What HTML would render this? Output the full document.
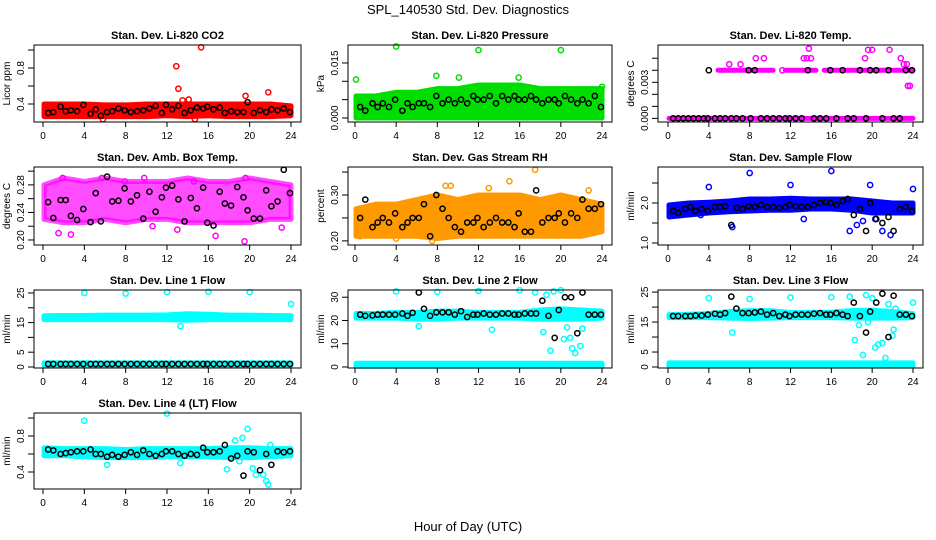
<!DOCTYPE html>
<html><head><meta charset="utf-8"><style>
body{margin:0;background:#fff}
svg{display:block;font-family:"Liberation Sans",sans-serif}
</style></head><body>
<svg id="c" width="936" height="540" viewBox="0 0 936 540">
<text x="468" y="14" text-anchor="middle" font-size="13">SPL_140530  Std. Dev. Diagnostics</text>
<text x="468" y="531" text-anchor="middle" font-size="13">Hour of Day (UTC)</text>
</svg>
<script>
// ---- data ----
const hours = [0,2,4,6,8,10,12,14,16,18,20,22,24];
const xTicks = [0,4,8,12,16,20,24];
const blackHours = [0.5,1,1.7,2.2,2.7,3.3,3.9,4.6,5.1,5.6,6.2,6.7,7.3,7.9,8.5,9.1,9.7,10.3,10.9,11.5,11.9,12.5,13.1,13.7,14.3,14.9,15.5,15.9,16.5,17.1,17.6,18.2,18.8,19.4,19.8,20.4,21,21.6,22.1,22.7,23.3,23.9];

const p1Lo=[0.26,0.26,0.26,0.26,0.26,0.26,0.27,0.26,0.27,0.26,0.26,0.26,0.27];
const p1Hi=[0.40,0.40,0.40,0.39,0.39,0.40,0.40,0.40,0.40,0.40,0.40,0.40,0.38];
const p1OutX=[12.9,13.1,15.3,21.8,19.6,14.1,5.8,14.7,13.5];
const p1OutY=[0.82,0.57,1.03,0.53,0.49,0.45,0.23,0.23,0.44];
const p1Black=[0.30,0.31,0.37,0.32,0.33,0.32,0.39,0.29,0.34,0.27,0.31,0.32,0.35,0.33,0.31,0.32,0.33,0.35,0.38,0.30,0.39,0.34,0.38,0.30,0.33,0.36,0.35,0.37,0.34,0.36,0.30,0.32,0.31,0.31,0.42,0.30,0.33,0.31,0.34,0.33,0.35,0.31];

const p2Lo=[0.0,0.0,0.0,0.0,0.0,0.0,0.0,0.0,0.0,0.0,0.0,0.0,0.0];
const p2Hi=[0.006,0.006,0.007,0.007,0.008,0.008,0.009,0.009,0.009,0.008,0.008,0.008,0.008];
const p2OutX=[0.1,4,7.9,12,20,24,10.1,15.9];
const p2OutY=[0.0105,0.0195,0.0115,0.0185,0.0185,0.0085,0.011,0.011];
const p2Black=[0.003,0.002,0.004,0.003,0.004,0.003,0.005,0.002,0.004,0.003,0.004,0.004,0.003,0.006,0.004,0.005,0.004,0.005,0.004,0.006,0.005,0.005,0.006,0.004,0.006,0.005,0.006,0.005,0.005,0.006,0.005,0.004,0.005,0.005,0.004,0.006,0.005,0.004,0.005,0.004,0.006,0.003];

const p3Lo=[0,0,0,0,0,0,0,0,0,0,0,0,0];
const p3Hi=[0,0,0,0,0,0,0,0,0,0,0,0,0];
const p3SegStart=[4.9,11.5,15.3];
const p3SegEnd=[10.3,14.5,24];
const p3SegVal=[0.004,0.004,0.004];
const p3OutX=[6,7.1,8.6,9.4,11.2,13.3,13.6,13.8,14,19.3,19.6,20,21.7,22.8,23.1,23.4,23.5,23.7];
const p3OutY=[0.0045,0.0045,0.005,0.005,0.004,0.005,0.005,0.0058,0.005,0.005,0.0057,0.0057,0.0057,0.005,0.0045,0.0045,0.0027,0.0027];
const p3BlackX=[0.5,1,1.5,2,2.5,3,3.5,3.9,4,4.6,5.1,5.6,6.2,6.7,7.3,7.9,8.1,8.5,9.1,9.7,10.3,10.9,11.5,11.9,12.5,13.1,13.7,14.3,14.9,15.5,15.9,16.5,17.1,17.6,18.2,18.8,19.4,19.8,20.4,21,21.6,22.1,22.7,23.3,23.9];
const p3BlackY=[0,0,0,0,0,0,0,0,0.004,0,0,0,0,0,0,0.004,0,0.004,0,0,0,0,0,0,0,0,0.004,0,0,0,0.004,0,0.004,0,0,0.004,0,0.004,0.004,0,0.004,0,0,0.004,0.004];

const p4Lo=[0.23,0.225,0.225,0.23,0.225,0.23,0.23,0.225,0.225,0.225,0.225,0.23,0.23];
const p4Hi=[0.28,0.29,0.285,0.29,0.285,0.285,0.285,0.29,0.285,0.285,0.29,0.285,0.28];
const p4OutX=[1.9,2.7,5.7,9.8,13,16.7,19.5,23.1,14.6,10.6,1.5,19.6,7.9];
const p4OutY=[0.29,0.208,0.29,0.29,0.215,0.206,0.198,0.218,0.285,0.22,0.21,0.29,0.285];
const p4Black=[0.255,0.232,0.258,0.258,0.235,0.229,0.245,0.226,0.268,0.227,0.292,0.256,0.257,0.275,0.256,0.265,0.231,0.27,0.241,0.262,0.276,0.279,0.259,0.227,0.261,0.246,0.276,0.225,0.221,0.27,0.253,0.25,0.277,0.262,0.243,0.231,0.231,0.272,0.249,0.256,0.302,0.268];

const p5Lo=[0.21,0.21,0.21,0.21,0.205,0.21,0.21,0.21,0.21,0.21,0.21,0.21,0.22];
const p5Hi=[0.27,0.28,0.28,0.29,0.30,0.29,0.30,0.30,0.30,0.29,0.30,0.29,0.28];
const p5OutX=[15,17.5,13,9.3,8.8,22.7,0.5,4,7.5];
const p5OutY=[0.33,0.355,0.315,0.32,0.32,0.31,0.21,0.205,0.2];
const p5Black=[0.25,0.29,0.23,0.24,0.25,0.24,0.26,0.23,0.24,0.25,0.25,0.28,0.21,0.30,0.27,0.25,0.23,0.22,0.24,0.24,0.25,0.23,0.24,0.25,0.24,0.24,0.23,0.26,0.22,0.22,0.31,0.24,0.25,0.25,0.26,0.24,0.26,0.25,0.29,0.27,0.27,0.28];

const p6Lo=[1.65,1.7,1.75,1.78,1.8,1.82,1.82,1.85,1.85,1.82,1.75,1.75,1.75];
const p6Hi=[1.95,2.0,2.02,2.05,2.1,2.1,2.12,2.1,2.1,2.1,2.05,2.0,2.0];
const p6OutX=[8,16,12,19.8,4,24,13.3,17.8,18.5,19.1,20.3,21,21.8,6.3,3.2];
const p6OutY=[2.75,2.8,2.45,2.45,2.4,2.35,1.6,1.3,1.45,1.55,1.6,1.3,1.2,1.4,1.7];
const p6Black=[1.8,1.75,1.85,1.9,1.8,1.85,1.8,1.9,1.9,1.92,1.45,1.88,1.85,1.92,1.9,1.95,1.9,1.9,1.88,1.9,1.95,1.92,1.9,1.9,1.95,2.0,2.02,2.0,1.95,2.05,2.1,1.7,1.85,1.3,2.0,1.6,1.5,1.65,1.3,1.85,1.9,1.8];

const p7Lo=[16.0,16.0,16.0,16.0,16.0,16.0,16.0,15.8,16.0,16.0,16.0,16.0,16.0];
const p7Hi=[17.3,17.4,17.4,17.5,17.5,17.5,17.6,18.0,17.8,17.5,17.5,17.4,17.3];
const p7Lo2=[0.5,0.5,0.5,0.5,0.5,0.5,0.5,0.5,0.5,0.5,0.5,0.5,0.5];
const p7Hi2=[1.4,1.4,1.4,1.4,1.4,1.4,1.4,1.4,1.4,1.4,1.4,1.4,1.4];
const p7OutX=[4,8,12,16,20,24,13.3];
const p7OutY=[25,24.8,25.3,25.4,25.3,21.3,13.8];
const p7Black=[1,1,1,1,1,1,1,1,1,1,1,1,1,1,1,1,1,1,1,1,1,1,1,1,1,1,1,1,1,1,1,1,1,1,1,1,1,1,1,1,1,1];

const p8Lo=[21,21,21,20.5,20.5,21,21,21,21,20.5,20.5,20.5,21];
const p8Hi=[23,23,23.5,23.5,24,24,23.5,23.5,23.5,24.5,25,24.5,24];
const p8Lo2=[0.3,0.3,0.3,0.3,0.3,0.3,0.3,0.3,0.3,0.3,0.3,0.3,0.3];
const p8Hi2=[1.6,1.6,1.6,1.6,1.6,1.6,1.6,1.6,1.6,1.6,1.6,1.6,1.6];
const p8OutX=[4,8,12,16,17.5,18.3,18.6,19,19.3,20,20.3,20.6,20.9,21.1,21.4,21.9,22.1,13.3,6.2];
const p8OutY=[32.5,32.3,32.7,33,32,15,31,7,32.5,33,12,17,12.5,8,6,9,16.5,16,17.5];
const p8Black=[22.5,22,22.2,22.5,22.5,22.5,22.5,23,22,23.3,32,25,22,23.5,23.5,23.5,22.5,24,21.5,22.5,22.5,23,22.5,22.5,23,23,22.5,22.5,23,23,23,28.5,22,12.5,24.5,30,30,14.5,32,22.5,22.5,22.5];

const p9Lo=[16.5,16.5,16.5,16.3,16.2,16.3,16.5,16.5,16.5,16.3,16.3,16.3,16.5];
const p9Hi=[17.5,17.6,17.8,18.5,18.8,18.8,18.2,18.2,18.3,18.8,19,18.5,17.8];
const p9Lo2=[0.3,0.3,0.3,0.3,0.3,0.3,0.3,0.3,0.3,0.3,0.3,0.3,0.3];
const p9Hi2=[1.4,1.4,1.4,1.4,1.4,1.4,1.4,1.4,1.4,1.4,1.4,1.4,1.4];
const p9OutX=[4,8,12,16,6.3,17.8,18.3,18.7,19.1,19.4,19.6,20,20.3,20.6,21,21.3,21.6,22,22.1,22.3,24];
const p9OutY=[23,22.7,23.2,23.3,11.5,23.5,9,14,4,24,15,23,6.5,7.5,8,3,21,10.5,12.5,19.5,21.5];
const p9Black=[17,17,17,17,17.2,17.2,17.5,17.8,17.5,18,23.5,19.5,18,18,18.2,18.5,17.5,18,17,17.5,17,17.5,17.5,17.5,17.8,18,17.5,17.5,18,17.5,17,21.5,17,11.5,18.5,21.5,24.5,10,23.8,17.5,17.5,17];

const p10Lo=[0.58,0.58,0.57,0.56,0.56,0.56,0.57,0.57,0.57,0.56,0.56,0.57,0.58];
const p10Hi=[0.67,0.66,0.66,0.66,0.65,0.66,0.66,0.66,0.66,0.67,0.67,0.66,0.66];
const p10OutX=[4,12,13.3,6.2,17.8,18.6,19.3,19.8,20.3,20.6,21.3,21.6,21.8,19,22];
const p10OutY=[0.97,1.05,0.5,0.48,0.43,0.75,0.78,0.88,0.44,0.37,0.37,0.3,0.26,0.52,0.7];
const p10Black=[0.65,0.64,0.6,0.61,0.62,0.63,0.63,0.65,0.6,0.6,0.57,0.59,0.57,0.59,0.62,0.59,0.64,0.6,0.58,0.6,0.63,0.63,0.6,0.58,0.6,0.59,0.67,0.62,0.62,0.63,0.7,0.55,0.58,0.36,0.63,0.62,0.42,0.6,0.48,0.63,0.62,0.63];

// ---- layout ----
const cols=[{l:34,r:301,x0:43,x1:291},{l:348,r:612,x0:355,x1:602},{l:658,r:923,x0:668,x1:913}];
const rows=[{t:45,b:122},{t:167,b:245},{t:290,b:368},{t:413,b:489}];
const panels=[
 {c:0,r:0,title:"Stan. Dev. Li-820 CO2",ylab:"Licor ppm",yt:1.056,yb:0.2,ticks:[0.4,0.6,0.8,1.0],labs:["0.4","","0.8",""],col:"#ff0000",bands:[[p1Lo,p1Hi]],ox:p1OutX,oy:p1OutY,bx:blackHours,by:p1Black},
 {c:1,r:0,title:"Stan. Dev. Li-820 Pressure",ylab:"kPa",yt:0.0199,yb:-0.0011,ticks:[0,0.005,0.010,0.015],labs:["0.000","","","0.015"],col:"#00dd00",bands:[[p2Lo,p2Hi]],ox:p2OutX,oy:p2OutY,bx:blackHours,by:p2Black},
 {c:2,r:0,title:"Stan. Dev. Li-820 Temp.",ylab:"degrees C",yt:0.0061,yb:-0.0003,ticks:[0,0.001,0.002,0.003,0.004,0.005],labs:["0.000","","","0.003","",""],col:"#ff00ff",bands:[[p3Lo,p3Hi]],segs:true,ox:p3OutX,oy:p3OutY,bx:p3BlackX,by:p3BlackY},
 {c:0,r:1,title:"Stan. Dev. Amb. Box Temp.",ylab:"degrees C",yt:0.306,yb:0.1927,ticks:[0.20,0.22,0.24,0.26,0.28,0.30],labs:["0.20","","0.24","","0.28",""],col:"#ff00ff",bands:[[p4Lo,p4Hi]],op:0.7,ox:p4OutX,oy:p4OutY,bx:blackHours,by:p4Black},
 {c:1,r:1,title:"Stan. Dev. Gas Stream RH",ylab:"percent",yt:0.361,yb:0.191,ticks:[0.20,0.25,0.30,0.35],labs:["0.20","","0.30",""],col:"#ff9900",bands:[[p5Lo,p5Hi]],ox:p5OutX,oy:p5OutY,bx:blackHours,by:p5Black},
 {c:2,r:1,title:"Stan. Dev. Sample Flow",ylab:"ml/min",yt:2.9,yb:0.95,ticks:[1.0,1.5,2.0,2.5],labs:["1.0","","2.0",""],col:"#0000ff",bands:[[p6Lo,p6Hi]],ox:p6OutX,oy:p6OutY,bx:blackHours,by:p6Black},
 {c:0,r:2,title:"Stan. Dev. Line 1 Flow",ylab:"ml/min",yt:26.0,yb:-0.34,ticks:[0,5,10,15,20,25],labs:["0","5","","15","","25"],col:"#00ffff",bands:[[p7Lo,p7Hi],[p7Lo2,p7Hi2]],ox:p7OutX,oy:p7OutY,bx:blackHours,by:p7Black},
 {c:1,r:2,title:"Stan. Dev. Line 2 Flow",ylab:"ml/min",yt:33.1,yb:-0.44,ticks:[0,10,20,30],labs:["0","10","20","30"],col:"#00ffff",bands:[[p8Lo,p8Hi],[p8Lo2,p8Hi2]],ox:p8OutX,oy:p8OutY,bx:blackHours,by:p8Black},
 {c:2,r:2,title:"Stan. Dev. Line 3 Flow",ylab:"ml/min",yt:25.7,yb:-0.33,ticks:[0,5,10,15,20,25],labs:["0","5","","15","","25"],col:"#00ffff",bands:[[p9Lo,p9Hi],[p9Lo2,p9Hi2]],ox:p9OutX,oy:p9OutY,bx:blackHours,by:p9Black},
 {c:0,r:3,title:"Stan. Dev. Line 4 (LT) Flow",ylab:"ml/min",yt:1.056,yb:0.211,ticks:[0.4,0.6,0.8,1.0],labs:["0.4","","0.8",""],col:"#00ffff",bands:[[p10Lo,p10Hi]],ox:p10OutX,oy:p10OutY,bx:blackHours,by:p10Black}
];
const NS="http://www.w3.org/2000/svg";
const svg=document.getElementById('c');
function mk(tag,at,parent){const e=document.createElementNS(NS,tag);for(const k in at)e.setAttribute(k,at[k]);(parent||svg).appendChild(e);return e;}
panels.forEach((p,i)=>{
 const C=cols[p.c],R=rows[p.r];
 const g=mk('g',{});
 
 
 const X=h=>C.x0+(C.x1-C.x0)*h/24;
 const Y=v=>R.t+(R.b-R.t)*(p.yt-v)/(p.yt-p.yb);
 const ttl=mk('text',{x:(C.l+C.r)/2,y:R.t-6,'text-anchor':'middle','font-size':11,'font-weight':'bold'},g);ttl.textContent=p.title;
 
 
 p.bands.forEach(([lo,hi],bi)=>{
  let d='';
  hours.forEach((h,k)=>{d+=(k?'L':'M')+X(Math.max(h,0.1))+','+Y(hi[k]);});
  for(let k=hours.length-1;k>=0;k--)d+='L'+X(Math.max(hours[k],0.1))+','+Y(lo[k]);
  d+='Z';
  const b=mk('path',{d:d,fill:p.col,stroke:p.col,'stroke-width':5,'stroke-linejoin':'round','fill-opacity':p.op||1,'stroke-opacity':p.op||1},g);
  
  
 });
 if(p.segs){p3SegStart.forEach((s,k)=>{
  const sg=mk('line',{x1:X(s),x2:X(p3SegEnd[k]),y1:Y(p3SegVal[k]),y2:Y(p3SegVal[k]),stroke:p.col,'stroke-width':5,'stroke-linecap':'round'},g);
  
  
 });}
 p.ox.forEach((h,k)=>{
  const o=mk('circle',{cx:X(h),cy:Y(p.oy[k]),r:2.6,fill:'none',stroke:p.col,'stroke-width':1.5},g);
  
  
 });
 p.bx.forEach((h,k)=>{
  const o=mk('circle',{cx:X(h),cy:Y(p.by[k]),r:2.6,fill:'none',stroke:'#000','stroke-width':1.5},g);
  
  
 });
 const box=mk('rect',{x:C.l,y:R.t,width:C.r-C.l,height:R.b-R.t,fill:'none',stroke:'#000','stroke-width':1},g);
 
 
 p.ticks.forEach((v,k)=>{
  const y=Y(v);
  mk('line',{x1:C.l-6,x2:C.l,y1:y,y2:y,stroke:'#000'},g);
  if(p.labs[k]){const t=mk('text',{x:C.l-10,y:y,'text-anchor':'middle','font-size':10,transform:`rotate(-90 ${C.l-10} ${y})`},g);t.textContent=p.labs[k];
   
   }
 });
 const yl=mk('text',{x:C.l-24,y:(R.t+R.b)/2,'text-anchor':'middle','font-size':10,transform:`rotate(-90 ${C.l-24} ${(R.t+R.b)/2})`},g);yl.textContent=p.ylab;
 
 
 xTicks.forEach(h=>{
  const x=X(h);
  mk('line',{x1:x,x2:x,y1:R.b,y2:R.b+5,stroke:'#000'},g);
  const t=mk('text',{x:x,y:R.b+17,'text-anchor':'middle','font-size':10},g);t.textContent=h;
  
  
 });
});
</script>
</body></html>
